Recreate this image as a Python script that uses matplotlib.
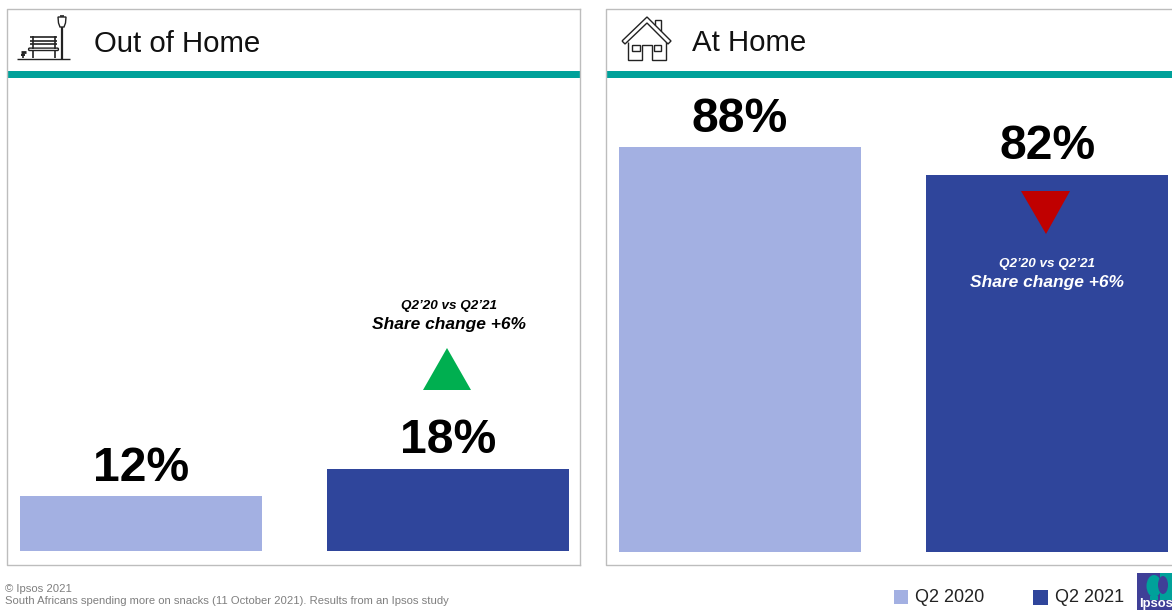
import matplotlib
matplotlib.use("Agg")
import matplotlib.pyplot as plt
from matplotlib.patches import Rectangle, Polygon, Ellipse, FancyBboxPatch

plt.rcParams["font.family"] = ["Liberation Sans", "DejaVu Sans"]

# Share of snacking occasions by location
periods = ["Q2 2020", "Q2 2021"]
out_of_home = [12, 18]
at_home = [88, 82]
panel_titles = ["Out of Home", "At Home"]
note_period = "Q2’20 vs Q2’21"
note_change = "Share change +6%"
footer_lines = ["© Ipsos 2021",
                "South Africans spending more on snacks (11 October 2021). Results from an Ipsos study"]

LIGHT = "#A3B0E2"
DARK = "#2F459B"
TEAL = "#00A19A"
LOGO = "#3F3F97"
FRAME = "#BDBDBD"
W, H = 1172, 610

fig = plt.figure(figsize=(W / 100, H / 100), dpi=100, facecolor="white")

# Pixel-space layers for frames, icons and annotations (y runs downwards)
bg = fig.add_axes([0, 0, 1, 1], zorder=0)
bg.set_xlim(0, W)
bg.set_ylim(H, 0)
bg.axis("off")
top = fig.add_axes([0, 0, 1, 1], zorder=5)
top.set_xlim(0, W)
top.set_ylim(H, 0)
top.axis("off")
top.patch.set_alpha(0)


def line(xs, ys, lw=1.0, color="#222222"):
    top.plot(xs, ys, color=color, lw=lw, solid_capstyle="butt", solid_joinstyle="miter")


def panel(x0, x1, y1):
    """Grey frame with a teal rule below the heading."""
    bg.plot([x1, x0, x0, x1], [9, 9, y1, y1], color=FRAME, lw=1.0)
    if x1 < W - 2:
        bg.plot([x1, x1], [9, y1], color=FRAME, lw=1.0)
    bg.add_patch(Rectangle((x0, 71), x1 - x0, 6.8, color=TEAL, lw=0))


panel(7, 580, 565)
panel(606, 1172, 565)


def bar_panel(values, first_center, baseline, px_per_pct):
    """Two bars on a percent scale, labelled with their values."""
    spacing, bar_w = 307.2, 242.5
    left_px = first_center - spacing * 0.45
    right_px = first_center + spacing * 1.45
    top_px = 80.0
    ax = fig.add_axes([left_px / W, 1 - baseline / H,
                       (right_px - left_px) / W, (baseline - top_px) / H], zorder=2)
    ax.set_xlim(-0.45, 1.45)
    ax.set_ylim(0, (baseline - top_px) / px_per_pct)
    ax.axis("off")
    ax.patch.set_alpha(0)
    ax.bar([0, 1], values, width=bar_w / spacing, color=[LIGHT, DARK], linewidth=0)
    for i, v in enumerate(values):
        ax.annotate(f"{v}%", (i, v), xytext=(0, 4), textcoords="offset points",
                    ha="center", va="bottom", fontsize=34.6, fontweight="bold", color="black")


bar_panel(out_of_home, 141.0, 551.0, 4.56)
bar_panel(at_home, 740.0, 552.0, 4.6)

# Panel headings
top.text(93.5, 44, panel_titles[0], fontsize=21.2, color="#111111", va="center", ha="left")
top.text(692, 43, panel_titles[1], fontsize=21.2, color="#111111", va="center", ha="left")

# Change notes and direction triangles
top.text(449, 305.5, note_period, fontsize=9.7, fontweight="bold", fontstyle="italic",
         color="black", ha="center", va="center")
top.text(449, 325, note_change, fontsize=12.5, fontweight="bold", fontstyle="italic",
         color="black", ha="center", va="center")
top.add_patch(Polygon([(423, 390), (471, 390), (447, 348)], color="#00AF50", lw=0))

top.add_patch(Polygon([(1021, 191), (1070, 191), (1046, 234)], color="#C00000", lw=0, zorder=6))
top.text(1047, 264, note_period, fontsize=9.7, fontweight="bold", fontstyle="italic",
         color="white", ha="center", va="center", zorder=6)
top.text(1047, 283, note_change, fontsize=12.5, fontweight="bold", fontstyle="italic",
         color="white", ha="center", va="center", zorder=6)

# Park bench and lamp icon
line([17, 70], [58.5, 58.5], 1.0)
line([62, 62], [27, 58.5], 1.6)
top.add_patch(Polygon([(58, 17), (66, 17), (65.5, 23), (64, 27), (60, 27), (58.5, 23)],
                      facecolor="white", edgecolor="#222222", lw=1.0))
line([60, 64], [15.5, 15.5], 1.2)
for y in (37, 41, 44):
    line([30, 57], [y, y], 1.2)
line([33, 33], [36, 49], 1.2)
line([54.5, 54.5], [36, 49], 1.2)
top.add_patch(FancyBboxPatch((29, 48.5), 29, 1.6, boxstyle="round,pad=0.4,rounding_size=1",
                             facecolor="white", edgecolor="#222222", lw=1.0))
line([33, 33], [51, 58], 1.2)
line([54.5, 54.5], [51, 58], 1.2)
line([23, 23], [52, 58], 1.2)
line([20.5, 25.5], [52, 52], 2.0)
line([21, 25], [55, 55], 1.4)

# House icon
line([622, 647, 671, 668, 647, 625, 622], [41, 17, 41, 44, 23, 44, 41], 1.0)
line([655, 655, 661, 661], [25, 20, 20, 31], 1.0)
line([628, 628, 642, 642, 652, 652, 666, 666], [42, 59.5, 59.5, 44.5, 44.5, 59.5, 59.5, 42], 1.0)
line([632, 640, 640, 632, 632], [44.5, 44.5, 51, 51, 44.5], 1.0)
line([654, 661, 661, 654, 654], [44.5, 44.5, 51, 51, 44.5], 1.0)

# Source lines
top.text(5, 588.5, footer_lines[0], fontsize=8.1, color="#7F7F7F", ha="left", va="center")
top.text(5, 601.5, footer_lines[1], fontsize=8.1, color="#7F7F7F", ha="left", va="center")

# Legend
top.add_patch(Rectangle((893.5, 589.5), 14, 14, color=LIGHT, lw=0))
top.text(915, 597, periods[0], fontsize=13, color="#222222", ha="left", va="center")
top.add_patch(Rectangle((1032.5, 589.5), 15, 15, color=DARK, lw=0))
top.text(1055, 597, periods[1], fontsize=13, color="#222222", ha="left", va="center")

# Company logo in the lower right corner: two-tone square with a head silhouette
top.add_patch(Rectangle((1137, 573), 35, 37, color=LOGO, lw=0))
top.add_patch(Rectangle((1160, 573), 12, 27, color=TEAL, lw=0))
top.add_patch(Ellipse((1154, 586), 15, 22, color=TEAL, lw=0))
top.add_patch(Ellipse((1163, 585), 10, 18, color=LOGO, lw=0))
top.add_patch(Rectangle((1150, 596), 8, 4, color=TEAL, lw=0))
top.text(1139, 604, "Ipsos", fontsize=9.4, color="white", fontweight="bold",
         ha="left", va="center")

fig.savefig("out.png", dpi=100, facecolor="white")
